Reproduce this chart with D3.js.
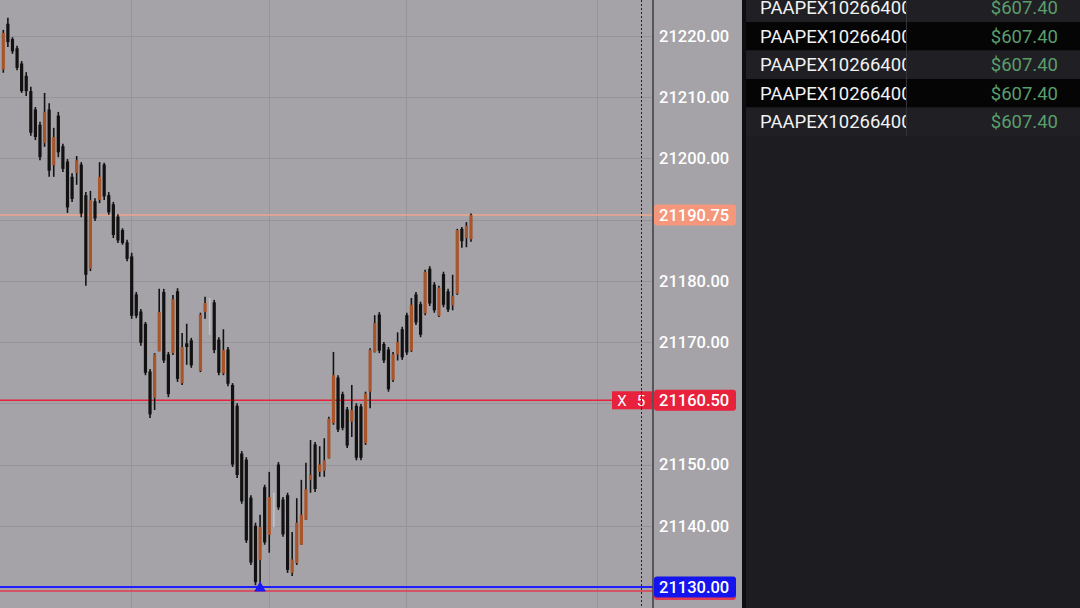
<!DOCTYPE html>
<html><head><meta charset="utf-8">
<script src="https://cdn.jsdelivr.net/npm/d3@7"></script>
<style>html,body{margin:0;padding:0;background:#a5a3a7;overflow:hidden}svg{display:block}</style>
</head><body>
<svg id="chart" width="1080" height="608"></svg>
<script>
// ---- data ----
// one entry per bar slot; null = empty slot
const opens  = [21214.5,21222,21219.5,21218,21215.5,21213.5,21211,21208,21205.5,21202.5,21208,21198.9,21207,21202,21199.5,21197,21197.6,21199,21194,21182,21193,21193.2,21199,21194,21192.5,21190.5,21188.3,21186.3,21184,21177.8,21175,21173,21165.2,21160.9,21168.5,21178.2,21168,21168.2,21178.3,21163.3,21169.8,21170.3,null,21165.3,21174.9,21174,21176.5,21170.4,21164.9,21168.8,21163,21159.6,21151.8,21150.8,21144.6,21140,21134.4,21146.3,21138.5,21142.5,21150,21144.3,21145,21132.3,21133.9,21136.9,21141,21147.5,21153.3,21148.8,21149,21151,21156.8,21164.2,21161.5,21159,21157,21159.6,21159.5,21153.5,21161.9,21168.4,21174.5,21169.7,21168.8,21163.8,21168,21172.1,21174.4,21168.6,21177.8,21176.2,21174.7,21182,21179.4,21174.3,21181.1,21178.3,21176,21177.9,21188.5,21187,21186.8];
const highs  = [21221,21223,21219.8,21218.4,21215.9,21214.1,21211.7,21208.4,21206,21210.7,21209,21205,21207.6,21202.4,21199.9,21197.6,21200.4,21199.4,21194.5,21194.7,21193.5,21199.4,21199.3,21194.5,21192.9,21190.9,21188.6,21186.7,21184.6,21178.2,21175.4,21173.3,21165.6,21168.2,21178.7,21178.7,21168.4,21177.7,21178.8,21171.5,21173,21170.7,null,21174.8,21177.4,21177.2,21176.9,21170.8,21172.1,21169.2,21163.3,21160,21152.2,21151.2,21145,21140.5,21141.8,21146.7,21148.8,21145.4,21150.4,21144.7,21145.4,21139,21144.5,21147.5,21150.3,21154,21153.7,21153,21154.3,21157.8,21168.4,21164.6,21161.9,21159.4,21163,21160,21159.9,21161.9,21169,21174.4,21174.9,21170,21169.2,21168.4,21171.6,21172.5,21174.8,21177.2,21178.2,21176.6,21181.8,21182.4,21179.8,21179.2,21181.5,21178.7,21181,21188.5,21188.8,21189.6,21191];
const lows   = [21214,21218.2,21217.1,21214.4,21210.7,21210.2,21203.7,21203,21199.7,21201.9,21197,21197,21200.2,21197.8,21191.1,21192.9,21195.7,21190.4,21179.2,21181.6,21189.8,21192.7,21193.2,21190.8,21187,21186.2,21185.9,21183.2,21173.8,21173.9,21169.4,21164.6,21157.6,21158.9,21168.5,21166.6,21161,21167.9,21163.5,21163,21166.3,21165.8,null,21165.1,21173.8,21171.2,21168.2,21164.6,21164.6,21162.8,21149.6,21147.8,21143.6,21137.2,21133.6,21130.3,21130.7,21136.9,21135.6,21139.8,21142.6,21138.2,21132.3,21131.8,21133.6,21136.9,21141,21145.4,21145.5,21148,21148,21151,21156.5,21155.3,21155.6,21152.7,21154.5,21150.7,21150.7,21153.2,21159.2,21168.3,21168.2,21166.6,21161.9,21163.5,21167,21167.1,21167.9,21168.4,21172.8,21170.8,21174.4,21175.9,21174.8,21174.1,21175.7,21174.9,21175.2,21177.7,21185.4,21185.5,21186.4];
const closes = [21220.5,21219,21217.5,21214.8,21211,21211,21204.2,21203.5,21200.2,21207.6,21198,21203.5,21201,21198.3,21192,21193.4,21199.7,21191,21181,21193.2,21190.2,21197,21193.8,21191.2,21187.5,21186.6,21186.2,21183.6,21174.3,21174.3,21169.9,21165,21158.2,21168,21174.9,21167,21161.5,21177,21164,21169.2,21169.2,21166.2,null,21174.5,21176.4,21174,21168.7,21165,21168.7,21163.2,21150,21148.3,21144,21137.6,21134,21130.8,21139.8,21137.3,21144.7,21142.5,21143,21138.6,21132.8,21134.5,21140.5,21141.8,21146,21148.3,21146,21150,21150.7,21157.5,21164.6,21155.7,21156,21153.1,21158.9,21151.1,21151.1,21161.6,21168.7,21173.1,21168.6,21167,21162.3,21168,21170,21167.5,21168.3,21176.1,21173.2,21171.2,21181.5,21176.3,21175.2,21178.9,21176.1,21175.3,21177.5,21188.3,21186.5,21189,21190.75];

const priceTicks = [21130,21140,21150,21160,21170,21180,21190,21200,21210,21220];
const timeGridSlots = [27.85, 57.85, 87.85, 129.5];
const lastPrice = 21190.75;
const orderPrice = 21160.50;
const orderQty = 5;
const lowMarkPrice = 21130.00;
const stopPrice = 21129.5;
const lowMarkSlot = 56;

const accounts = ["PAAPEX10266400","PAAPEX10266400","PAAPEX10266400","PAAPEX10266400","PAAPEX10266400"];
const pnl = ["$607.40","$607.40","$607.40","$607.40","$607.40"];

// ---- drawing ----
const svg = d3.select("#chart");
const W = 1080, H = 608;
const plotRight = 653, axisRight = 742;
const x = d3.scaleLinear().domain([0, 102]).range([3.3, 471]);
const y = d3.scaleLinear().domain([21130, 21220]).range([587, 36]);
const fmt = d3.format(".2f");

svg.append("rect").attr("width", W).attr("height", H).attr("fill", "#a5a3a7");

// grid
const grid = svg.append("g");
grid.selectAll("line.h").data(priceTicks).join("line")
  .attr("x1", 0).attr("x2", plotRight).attr("y1", d => Math.round(y(d)) + 0.5).attr("y2", d => Math.round(y(d)) + 0.5)
  .attr("stroke", "#96949a").attr("stroke-width", 1);
grid.selectAll("line.v").data(timeGridSlots).join("line")
  .attr("x1", d => Math.round(x(d)) + 0.5).attr("x2", d => Math.round(x(d)) + 0.5).attr("y1", 0).attr("y2", H)
  .attr("stroke", "#96949a").attr("stroke-width", 1);

// last price line
svg.append("line").attr("x1", 0).attr("x2", plotRight).attr("y1", y(lastPrice)).attr("y2", y(lastPrice))
  .attr("stroke", "#f2a48c").attr("stroke-width", 1.5);
// order line
svg.append("line").attr("x1", 0).attr("x2", plotRight).attr("y1", y(orderPrice)).attr("y2", y(orderPrice))
  .attr("stroke", "#e8213d").attr("stroke-width", 1.5);
// stop (red) & low (blue) lines
svg.append("line").attr("x1", 0).attr("x2", plotRight).attr("y1", y(stopPrice)+1).attr("y2", y(stopPrice)+1)
  .attr("stroke", "#e23a52").attr("stroke-width", 1.5);
svg.append("line").attr("x1", 0).attr("x2", plotRight).attr("y1", y(lowMarkPrice)).attr("y2", y(lowMarkPrice))
  .attr("stroke", "#1e1eff").attr("stroke-width", 1.8);

// candles
const bars = opens.map((o, i) => ({i, o, h: highs[i], l: lows[i], c: closes[i]})).filter(d => d.o !== null);
const cg = svg.append("g");
cg.selectAll("line.wick").data(bars).join("line")
  .attr("x1", d => x(d.i)).attr("x2", d => x(d.i))
  .attr("y1", d => y(d.h)).attr("y2", d => y(d.l))
  .attr("stroke", d => d.o === d.c ? "#c4c2c6" : "#121212").attr("stroke-width", 1.6);
cg.selectAll("rect.body").data(bars).join("rect")
  .attr("x", d => x(d.i) - 1.6).attr("width", 3.2)
  .attr("y", d => y(Math.max(d.o, d.c)))
  .attr("height", d => Math.max(1, y(Math.min(d.o, d.c)) - y(Math.max(d.o, d.c))))
  .attr("fill", d => d.o === d.c ? "#b7b5b9" : (d.c > d.o ? "#a8552c" : "#111111"));

// low marker triangle
svg.append("path")
  .attr("d", d3.symbol().type(d3.symbolTriangle).size(60)())
  .attr("transform", `translate(${x(lowMarkSlot)},${y(lowMarkPrice) + 1})`)
  .attr("fill", "#1a1af5");

// dotted & axis separator lines
svg.append("line").attr("x1", 641.5).attr("x2", 641.5).attr("y1", 0).attr("y2", H)
  .attr("stroke", "#222").attr("stroke-width", 1).attr("stroke-dasharray", "2,2");
svg.append("line").attr("x1", plotRight).attr("x2", plotRight).attr("y1", 0).attr("y2", H)
  .attr("stroke", "#3c3c3e").attr("stroke-width", 1.5);

// price axis
const marked = [lastPrice, orderPrice, lowMarkPrice];
const axis = d3.axisRight(y)
  .tickValues(priceTicks.filter(t => marked.every(m => Math.abs(m - t) > 3)))
  .tickFormat(fmt).tickSize(0).tickPadding(6);
const ag = svg.append("g").attr("transform", `translate(${plotRight},0)`).call(axis);
ag.select(".domain").remove();
ag.selectAll("text").attr("fill", "#ffffff").attr("font-family", "Roboto, sans-serif")
  .attr("font-size", 16.5).attr("font-weight", 500);

// price labels
function priceLabel(val, fill, textFill) {
  const g = svg.append("g");
  const yy = y(val);
  g.append("rect").attr("x", plotRight + 1).attr("y", yy - 10.5).attr("width", 82).attr("height", 21)
    .attr("rx", 3).attr("fill", fill);
  g.append("text").attr("x", plotRight + 6).attr("y", yy).attr("dy", "0.36em")
    .attr("fill", textFill).attr("font-family", "Roboto, sans-serif").attr("font-size", 16.5).attr("font-weight", 500)
    .text(fmt(val));
  return g;
}
priceLabel(lastPrice, "#f4977d", "#ffffff");
priceLabel(orderPrice, "#e8213d", "#ffffff");
// order tag
const ot = svg.append("g");
ot.append("rect").attr("x", 612).attr("y", y(orderPrice) - 9).attr("width", 40).attr("height", 18).attr("fill", "#e8213d");
ot.append("text").attr("x", 622).attr("y", y(orderPrice)).attr("dy", "0.36em").attr("text-anchor", "middle")
  .attr("fill", "#fff").attr("font-family", "Roboto, sans-serif").attr("font-size", 15).text("X");
ot.append("text").attr("x", 641).attr("y", y(orderPrice)).attr("dy", "0.36em").attr("text-anchor", "middle")
  .attr("fill", "#fff").attr("font-family", "Roboto, sans-serif").attr("font-size", 15).text(orderQty);
ot.append("line").attr("x1", 641.5).attr("x2", 641.5).attr("y1", y(orderPrice) - 9).attr("y2", y(orderPrice) + 9)
  .attr("stroke", "#222").attr("stroke-dasharray", "2,2");
// low label with red underline
svg.append("rect").attr("x", plotRight + 1).attr("y", y(lowMarkPrice) - 9).attr("width", 82).attr("height", 22)
  .attr("rx", 3).attr("fill", "#e23a52");
priceLabel(lowMarkPrice, "#1414ee", "#ffffff");

// right panel
const panel = svg.append("g").attr("transform", `translate(${axisRight},0)`);
panel.append("rect").attr("x", 0).attr("y", 0).attr("width", W - axisRight).attr("height", H).attr("fill", "#1d1d21");
panel.append("rect").attr("x", 0).attr("y", 0).attr("width", 4).attr("height", H).attr("fill", "#0e0e10");
const rowH = 28.5, row0 = -6.5;
svg.append("defs").append("clipPath").attr("id", "accClip")
  .append("rect").attr("x", 0).attr("y", -40).attr("width", 160).attr("height", 80);
const rows = panel.selectAll("g.row").data(accounts).join("g")
  .attr("transform", (d, i) => `translate(4,${row0 + i * rowH})`);
rows.append("rect").attr("width", W - axisRight - 4).attr("height", rowH)
  .attr("fill", (d, i) => i % 2 ? "#050506" : "#1f1f24");
rows.append("g").attr("clip-path", "url(#accClip)")
  .append("text").attr("x", 14).attr("y", rowH / 2).attr("dy", "0.36em")
  .attr("fill", "#f2f2f2").attr("font-family", "Roboto, sans-serif").attr("font-size", 18.5)
  .text(d => d);
rows.append("text").attr("x", 312).attr("y", rowH / 2).attr("dy", "0.36em").attr("text-anchor", "end")
  .attr("fill", "#5a9e6c").attr("font-family", "Roboto, sans-serif").attr("font-size", 18.5)
  .text((d, i) => pnl[i]);
rows.append("line").attr("x1", 160.5).attr("x2", 160.5).attr("y1", 0).attr("y2", rowH)
  .attr("stroke", "#34343a").attr("stroke-width", 1);
</script>
</body></html>
